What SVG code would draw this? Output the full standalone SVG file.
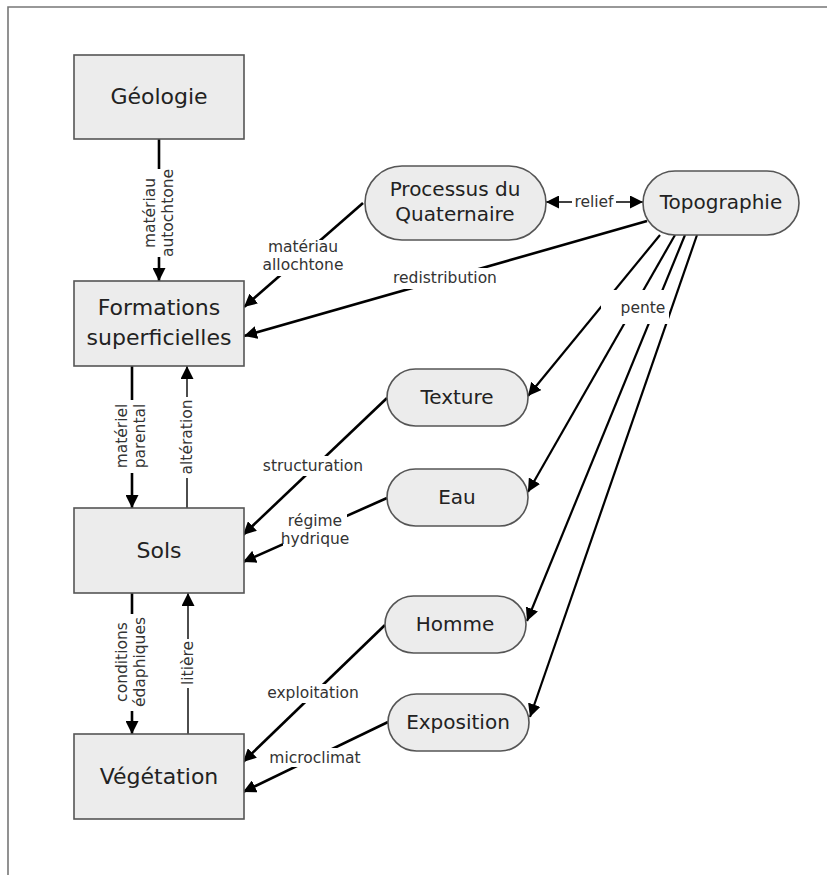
<svg xmlns="http://www.w3.org/2000/svg" width="827" height="875" viewBox="0 0 827 875">
<style>
.box{fill:#ececec;stroke:#555;stroke-width:1.6}
.nt{font-family:"DejaVu Sans",Verdana,sans-serif;font-size:22px;fill:#222;text-anchor:middle}
.et{font-family:"DejaVu Sans",Verdana,sans-serif;font-size:20px;fill:#222;text-anchor:middle}
.lt{font-family:"DejaVu Sans",Verdana,sans-serif;font-size:15.5px;fill:#333;text-anchor:middle}
.bg{fill:#fff}
.th{stroke:#000;stroke-width:2.6;fill:none;marker-end:url(#ah)}
.md{stroke:#000;stroke-width:2.2;fill:none;marker-end:url(#ah)}
.tn{stroke:#000;stroke-width:1.4;fill:none;marker-end:url(#ah)}
</style>
<defs>
<marker id="ah" markerUnits="userSpaceOnUse" markerWidth="14" markerHeight="13" refX="13" refY="6.5" orient="auto-start-reverse">
<path d="M0,0 L13,6.5 L0,13 z" fill="#000"/>
</marker>
</defs>
<rect width="827" height="875" fill="#fff"/>
<path d="M8,875 L8,7 L827,7" fill="none" stroke="#777" stroke-width="1.6"/>

<g id="connectors">
<line class="th" x1="159" y1="139" x2="159" y2="281"/>
<line class="th" x1="363" y1="203" x2="244" y2="307"/>
<line class="th" x1="647" y1="221" x2="244" y2="336"/>
<line class="tn" x1="546" y1="202" x2="643" y2="202" style="marker-start:url(#ah)"/>
<line class="md" x1="660" y1="235" x2="528" y2="396"/>
<line class="md" x1="675" y1="235" x2="528" y2="492"/>
<line class="md" x1="685" y1="235" x2="527" y2="621"/>
<line class="md" x1="697" y1="235" x2="530" y2="717"/>
<line class="th" x1="387" y1="398" x2="243" y2="535"/>
<line class="th" x1="387" y1="498" x2="243" y2="562"/>
<line class="th" x1="385" y1="625" x2="243" y2="762"/>
<line class="th" x1="388" y1="722" x2="243" y2="792"/>
<line class="th" x1="132" y1="366" x2="132" y2="508"/>
<line class="tn" x1="187" y1="508" x2="187" y2="366"/>
<line class="th" x1="132" y1="593" x2="132" y2="734"/>
<line class="tn" x1="188" y1="734" x2="188" y2="593"/>

<g id="lbl-autochtone">
<rect class="bg" x="141" y="169" width="36" height="88"/>
<g transform="translate(159,213) rotate(-90)"><text class="lt" x="0" y="-4">matériau</text><text class="lt" x="0" y="14">autochtone</text></g>
</g>
<g id="lbl-allochtone">
<rect class="bg" x="262" y="240" width="82" height="36"/>
<text class="lt" x="303" y="252">matériau</text><text class="lt" x="303" y="270">allochtone</text>
</g>
<g id="lbl-redistribution">
<rect class="bg" x="390" y="268" width="110" height="21"/>
<text class="lt" x="445" y="283">redistribution</text>
</g>
<g id="lbl-relief">
<rect class="bg" x="572" y="193" width="44" height="18"/>
<text class="lt" x="594" y="207">relief</text>
</g>
<g id="lbl-pente">
<rect class="bg" x="601" y="290" width="68" height="34"/>
<text class="lt" x="643" y="313">pente</text>
</g>
<g id="lbl-structuration">
<rect class="bg" x="262" y="456" width="103" height="20"/>
<text class="lt" x="313" y="471">structuration</text>
</g>
<g id="lbl-regime">
<rect class="bg" x="283" y="512" width="64" height="37"/>
<text class="lt" x="315" y="526">régime</text><text class="lt" x="315" y="544">hydrique</text>
</g>
<g id="lbl-exploitation">
<rect class="bg" x="262" y="684" width="104" height="19"/>
<text class="lt" x="313" y="698">exploitation</text>
</g>
<g id="lbl-microclimat">
<rect class="bg" x="270" y="748" width="90" height="19"/>
<text class="lt" x="315" y="763">microclimat</text>
</g>
<g id="lbl-parental">
<rect class="bg" x="114" y="400" width="36" height="73"/>
<g transform="translate(132,436) rotate(-90)"><text class="lt" x="0" y="-5">matériel</text><text class="lt" x="0" y="13">parental</text></g>
</g>
<g id="lbl-alteration">
<rect class="bg" x="179" y="397" width="17" height="81"/>
<g transform="translate(187,437) rotate(-90)"><text class="lt" x="0" y="5">altération</text></g>
</g>
<g id="lbl-edaphiques">
<rect class="bg" x="114" y="614" width="36" height="97"/>
<g transform="translate(132,662) rotate(-90)"><text class="lt" x="0" y="-5">conditions</text><text class="lt" x="0" y="13">édaphiques</text></g>
</g>
<g id="lbl-litiere">
<rect class="bg" x="180" y="639" width="16" height="49"/>
<g transform="translate(188,663) rotate(-90)"><text class="lt" x="0" y="5">litière</text></g>
</g>
</g>

<g id="geologie"><rect class="box" x="74" y="55" width="170" height="84"/><text class="nt" x="159" y="104">Géologie</text></g>
<g id="formations"><rect class="box" x="74" y="281" width="170" height="85"/><text class="nt" x="159" y="315">Formations</text><text class="nt" x="159" y="345">superficielles</text></g>
<g id="sols"><rect class="box" x="74" y="508" width="170" height="85"/><text class="nt" x="159" y="558">Sols</text></g>
<g id="vegetation"><rect class="box" x="74" y="734" width="170" height="85"/><text class="nt" x="159" y="784">Végétation</text></g>
<g id="processus"><rect class="box" x="365" y="166" width="181" height="74" rx="37"/><text class="et" x="455" y="196">Processus du</text><text class="et" x="455" y="221">Quaternaire</text></g>
<g id="topographie"><rect class="box" x="643" y="171" width="156" height="64" rx="32"/><text class="et" x="721" y="209">Topographie</text></g>
<g id="texture"><rect class="box" x="387" y="369" width="141" height="57" rx="28.5"/><text class="et" x="457" y="404">Texture</text></g>
<g id="eau"><rect class="box" x="387" y="469" width="141" height="57" rx="28.5"/><text class="et" x="457" y="504">Eau</text></g>
<g id="homme"><rect class="box" x="385" y="596" width="141" height="57" rx="28.5"/><text class="et" x="455" y="631">Homme</text></g>
<g id="exposition"><rect class="box" x="388" y="694" width="141" height="57" rx="28.5"/><text class="et" x="458" y="729">Exposition</text></g>
</svg>
